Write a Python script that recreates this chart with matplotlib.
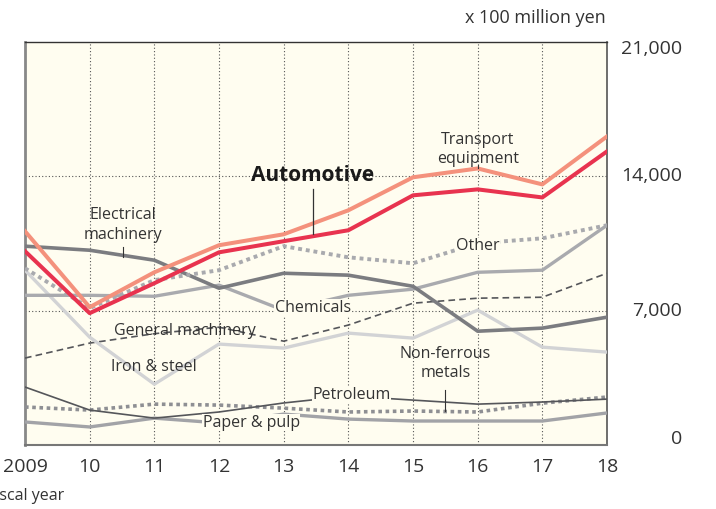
import matplotlib.pyplot as plt
from matplotlib.transforms import offset_copy

plt.rcParams['font.family'] = ['Open Sans', 'DejaVu Sans']

years = [2009, 2010, 2011, 2012, 2013, 2014, 2015, 2016, 2017, 2018]
year_labels = ['2009', '10', '11', '12', '13', '14', '15', '16', '17', '18']

transport = [11140, 7180, 9000, 10410, 10980, 12230, 13950, 14410, 13580, 16080]
automotive = [10100, 6870, 8430, 10040, 10620, 11190, 13010, 13320, 12900, 15300]
other = [9210, 7130, 8590, 9110, 10360, 9780, 9470, 10510, 10770, 11450]
electrical = [10360, 10150, 9630, 8170, 8950, 8850, 8270, 5930, 6090, 6660]
chemicals = [7800, 7800, 7750, 8330, 7020, 7800, 8120, 9000, 9110, 11450]
iron_steel = [9110, 5620, 3170, 5260, 5050, 5830, 5570, 7030, 5100, 4840]
general_mach = [4530, 5310, 5800, 6140, 5410, 6250, 7390, 7650, 7700, 8950]
petroleum = [3020, 1820, 1400, 1720, 2190, 2550, 2340, 2130, 2240, 2390]
non_ferrous = [1980, 1820, 2130, 2080, 1920, 1720, 1770, 1720, 2180, 2500]
paper_pulp = [1200, 940, 1400, 1150, 1610, 1350, 1250, 1250, 1250, 1670]

yticks = [0, 7000, 14000, 21000]

fig = plt.figure(figsize=(7.16, 5.09), dpi=100)
ax = fig.add_axes([25 / 716, 1 - 445 / 509, 582 / 716, 403 / 509])
ax.set_facecolor('#fffdf0')

# grid
for x in years[1:-1]:
    ax.axvline(x, color='#555555', lw=0.8, ls=(0, (1, 2)), zorder=1)
for y in yticks[1:-1]:
    ax.axhline(y, color='#555555', lw=0.8, ls=(0, (1, 2)), zorder=1)

# lines, back to front
ax.plot(years, paper_pulp, color='#a2a3a7', lw=2.4, solid_capstyle='butt', zorder=3)
ax.plot(years, non_ferrous, color='#8e8f93', lw=2.6, ls=(0, (1, 1)), zorder=3)
ax.plot(years, petroleum, color='#55565a', lw=1.2, zorder=3)
ax.plot(years, general_mach, color='#55565a', lw=1.2, ls=(0, (4, 2.5)), zorder=3)
ax.plot(years, iron_steel, color='#d2d3d5', lw=2.4, zorder=3)
ax.plot(years, chemicals, color='#a9aaae', lw=2.4, zorder=3)
ax.plot(years, electrical, color='#7b7c80', lw=2.6, zorder=3)
ax.plot(years, other, color='#a9aaae', lw=2.8, ls=(0, (1, 1)), zorder=3)
ax.plot(years, transport, color='#f4917c', lw=2.9, zorder=4)
ax.plot(years, automotive, color='#e8334f', lw=2.9, zorder=5)

ax.set_xlim(2009, 2018)
ax.set_ylim(0, 21000)

ax.set_xticks(years)
ax.set_xticklabels(year_labels)
ax.tick_params(axis='x', length=0, labelsize=14, colors='#333333', pad=9)
ax.set_yticks(yticks)
ax.set_yticklabels([])
ax.tick_params(axis='y', length=0)

# y labels on the right, a touch inside at the ends like the original
shifts = {0: 6, 7000: 0, 14000: 0, 21000: -7}
for v in yticks:
    tr = offset_copy(ax.get_yaxis_transform(), fig=fig, x=75, y=shifts[v], units='dots')
    ax.text(1, v, '{:,}'.format(v), transform=tr, ha='right', va='center',
            fontsize=14, color='#333333', clip_on=False)

ax.spines['left'].set_color('#888888')
ax.spines['left'].set_linewidth(2)
ax.spines['bottom'].set_color('#777777')
ax.spines['bottom'].set_linewidth(1.5)
ax.spines['top'].set_color('#333333')
ax.spines['top'].set_linewidth(1)
ax.spines['right'].set_color('#555555')
ax.spines['right'].set_linewidth(1.2)

# labels
tc = '#333333'
ax.text(2016, 15400, 'Transport\nequipment', ha='center', va='center', fontsize=11.5,
        color=tc, linespacing=1.3, zorder=6)
ax.plot([2016, 2016], [14450, 14600], color=tc, lw=0.8, zorder=6)
ax.text(2013.45, 14050, 'Automotive', ha='center', va='center', fontsize=15,
        fontweight='bold', color='#1a1a1a', zorder=6)
ax.plot([2013.45, 2013.45], [13350, 11000], color=tc, lw=0.9, zorder=6)
ax.text(2010.52, 11450, 'Electrical\nmachinery', ha='center', va='center', fontsize=11.5,
        color=tc, linespacing=1.3, zorder=6)
ax.plot([2010.52, 2010.52], [10300, 9800], color=tc, lw=0.8, zorder=6)
ax.text(2016, 10350, 'Other', ha='center', va='center', fontsize=11.5, color=tc,
        zorder=6, bbox=dict(facecolor='#fffdf0', edgecolor='none', pad=0.5))
ax.text(2013.45, 7150, 'Chemicals', ha='center', va='center', fontsize=11.5, color=tc,
        zorder=6, bbox=dict(facecolor='#fffdf0', edgecolor='none', pad=0.5))
ax.text(2011.48, 5950, 'General machinery', ha='center', va='center', fontsize=11.5,
        color=tc, zorder=6)
ax.text(2010.99, 4060, 'Iron & steel', ha='center', va='center', fontsize=11.5,
        color=tc, zorder=6)
ax.text(2014.05, 2600, 'Petroleum', ha='center', va='center', fontsize=11.5, color=tc,
        zorder=6, bbox=dict(facecolor='#fffdf0', edgecolor='none', pad=0.3))
ax.text(2012.5, 1150, 'Paper & pulp', ha='center', va='center', fontsize=11.5, color=tc,
        zorder=6, bbox=dict(facecolor='#fffdf0', edgecolor='none', pad=0.3))
ax.text(2015.5, 4250, 'Non-ferrous\nmetals', ha='center', va='center', fontsize=11.5,
        color=tc, linespacing=1.3, zorder=6)
ax.plot([2015.5, 2015.5], [2850, 1750], color=tc, lw=0.8, zorder=6)

fig.text(606 / 716, 1 - 18 / 509, 'x 100 million yen', ha='right', va='center',
         fontsize=13, color=tc)
# the original image is cropped through "Fiscal year" on the left
fig.text(-13 / 716, 1 - 496 / 509, 'Fiscal year', ha='left', va='center',
         fontsize=11.5, color=tc)

fig.savefig('out.png', dpi=100)
